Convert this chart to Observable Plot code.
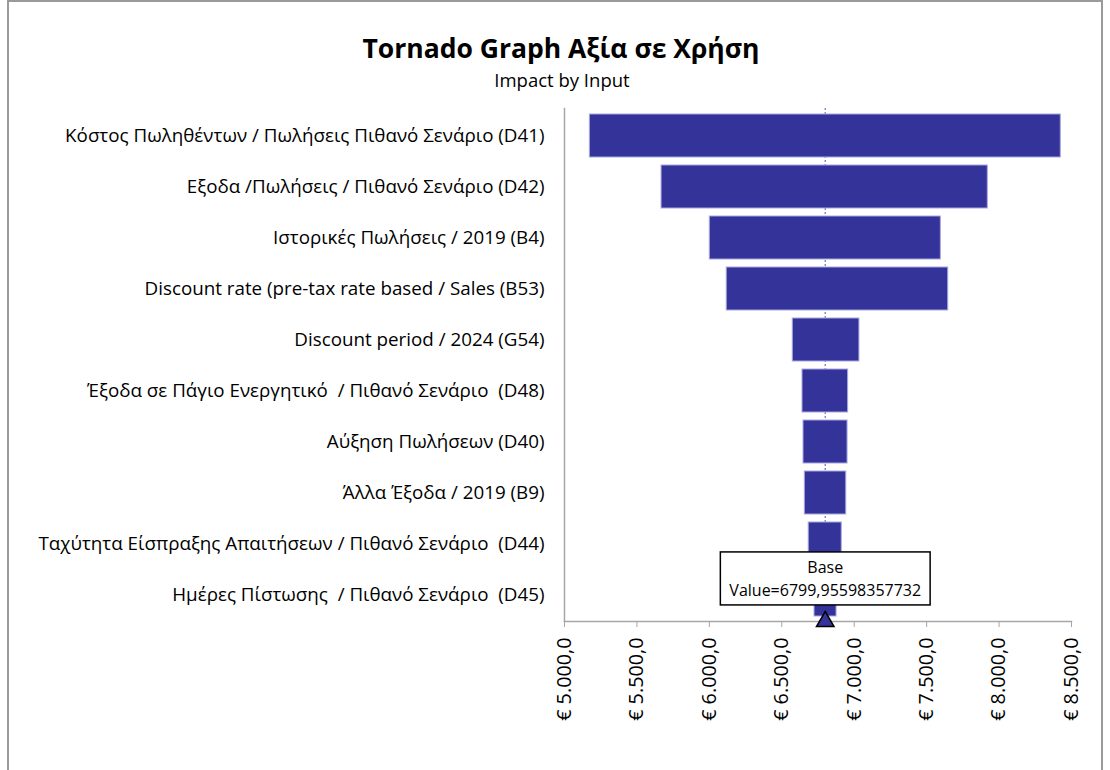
<!DOCTYPE html>
<html>
<head>
<meta charset="utf-8">
<script src="https://cdn.jsdelivr.net/npm/d3@7"></script>
<script src="https://cdn.jsdelivr.net/npm/@observablehq/plot@0.6"></script>
<style>
  html, body { margin: 0; padding: 0; background: #fff; }
  #wrap { position: relative; width: 1110px; height: 770px; overflow: hidden; font-family: "Open Sans", sans-serif; }
  #border { position: absolute; left: 7px; top: 0px; width: 1096px; height: 790px; border: 2px solid #9a9a9a; box-sizing: border-box; }
  #title { position: absolute; left: 0; width: 1122px; top: 30px; line-height: 36px; text-align: center; font-size: 26.5px; font-weight: 700; color: #000; }
  #subtitle { position: absolute; left: 0; width: 1124px; top: 69px; line-height: 22px; text-align: center; font-size: 18.5px; color: #000; }
  #chart { position: absolute; left: 0; top: 95px; }
  #chart svg text { white-space: pre; }
</style>
</head>
<body>
<div id="wrap">
  <div id="border"></div>
  <div id="title">Tornado Graph Αξία σε Χρήση</div>
  <div id="subtitle">Impact by Input</div>
  <div id="chart"></div>
</div>
<script>
const labels = [
  "Κόστος Πωληθέντων / Πωλήσεις Πιθανό Σενάριο (D41)",
  "Εξοδα /Πωλήσεις / Πιθανό Σενάριο (D42)",
  "Ιστορικές Πωλήσεις / 2019 (B4)",
  "Discount rate (pre-tax rate based / Sales (B53)",
  "Discount period / 2024 (G54)",
  "Έξοδα σε Πάγιο Ενεργητικό  / Πιθανό Σενάριο  (D48)",
  "Αύξηση Πωλήσεων (D40)",
  "Άλλα Έξοδα / 2019 (B9)",
  "Ταχύτητα Είσπραξης Απαιτήσεων / Πιθανό Σενάριο  (D44)",
  "Ημέρες Πίστωσης  / Πιθανό Σενάριο  (D45)"
];
const lowValues  = [5175, 5670, 6003, 6120, 6576, 6643, 6650, 6659, 6686, 6726];
const highValues = [8426, 7922, 7598, 7649, 7036, 6958, 6954, 6945, 6914, 6878];
const baseValue = 6799.95598357732;
const baseLabel = "Base\nValue=6799,95598357732";
const xTicks = [5000, 5500, 6000, 6500, 7000, 7500, 8000, 8500];

const rows = labels.map((name, i) => ({name, low: lowValues[i], high: highValues[i]}));
const fmt = d3.formatLocale({decimal: ",", thousands: ".", grouping: [3], currency: ["€ ", ""]}).format("$,.1f");
const FONT = "Open Sans";

const chart = Plot.plot({
  width: 1110,
  height: 675,
  marginTop: 13,
  marginBottom: 149,
  marginLeft: 564,
  marginRight: 39,
  style: {fontFamily: FONT, fontSize: "18.8px", color: "#000", background: "transparent"},
  x: {domain: [5000, 8500]},
  y: {domain: labels, paddingInner: 0.16, paddingOuter: 0.08},
  marks: [
    Plot.ruleX([baseValue], {stroke: "#7b7bc8", strokeWidth: 1.3, strokeDasharray: "2,2"}),
    Plot.barX(rows, {x1: "low", x2: "high", y: "name", fill: "#333399", stroke: "#a8a8e0", strokeWidth: 1}),
    Plot.frame({anchor: "left", stroke: "#a6a6a6", strokeWidth: 1.5}),
    Plot.frame({anchor: "bottom", stroke: "#a6a6a6", strokeWidth: 1.5}),
    Plot.axisY({tickSize: 0, tickPadding: 20, fontSize: 18.8, label: null, fill: "#000"}),
    Plot.axisX({ticks: xTicks, tickSize: 6, tickPadding: 10, tickRotate: -90, tickFormat: fmt, stroke: "#a6a6a6", fill: "#000", fontSize: 19.8, label: null}),
    Plot.text([baseValue], {x: d => d, y: () => labels[labels.length - 1], text: () => baseLabel, dy: -18, lineHeight: 1.45, fontSize: 16, fill: "#000", className: "base-note"}),
    Plot.dot([baseValue], {x: d => d, frameAnchor: "bottom", symbol: "triangle", r: 6.5, fill: "#333399", stroke: "#000", strokeWidth: 1.5})
  ]
});
document.getElementById("chart").appendChild(chart);

// box behind the base annotation
const note = chart.querySelector("g.base-note") || [...chart.querySelectorAll("g[aria-label='text']")].pop();
if (note) {
  const bb = note.getBBox();
  const rect = document.createElementNS("http://www.w3.org/2000/svg", "rect");
  const w = bb.width + 18, h = 53;
  rect.setAttribute("x", bb.x + bb.width / 2 - w / 2);
  rect.setAttribute("y", bb.y + bb.height / 2 - h / 2);
  rect.setAttribute("width", w);
  rect.setAttribute("height", h);
  rect.setAttribute("fill", "#fff");
  rect.setAttribute("stroke", "#000");
  rect.setAttribute("stroke-width", 1.5);
  note.insertBefore(rect, note.firstChild);
}
</script>
</body>
</html>
